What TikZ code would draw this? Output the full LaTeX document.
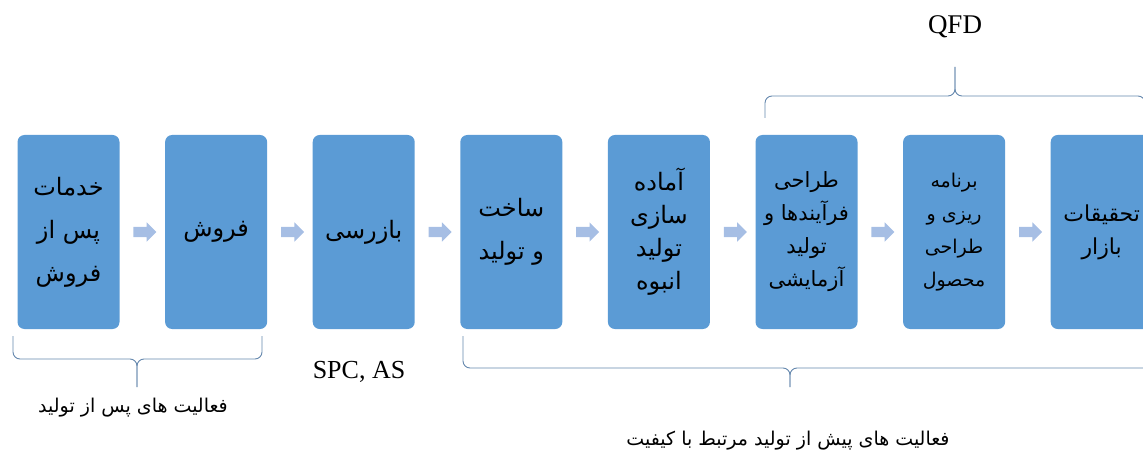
\documentclass[tikz,border=0pt]{standalone}
\usepackage{fontspec}
\setmainfont{Liberation Serif}
\newfontfamily\farsi[Script=Arabic]{DejaVu Sans}
\TeXXeTstate=1
\usetikzlibrary{positioning,shapes.arrows}
\definecolor{stageblue}{HTML}{5B9BD5}
\definecolor{flowblue}{HTML}{A6BEE4}
\definecolor{bracegray}{HTML}{6487AD}
\def\fa#1{{\farsi\beginR #1\endR}}
\def\groupbrace(#1:#2:#3)(#4:#5:#6){%
  \draw[brace] (#1,#4) |- (#2,#5) -- (#2,#6);
  \draw[brace] (#3,#4) |- (#2,#5) -- (#2,#6);}

\begin{document}
\begin{tikzpicture}[x=1pt,y=-1pt,
    stage/.style={rectangle, rounded corners=7, fill=stageblue, minimum width=102,
      minimum height=194, inner sep=0, align=center},
    big/.style={font=\fontsize{24}{43}\selectfont},
    small/.style={font=\fontsize{#1}{33}\selectfont},
    flow/.style={single arrow, fill=flowblue, draw=none, minimum height=23,
      inner xsep=0, inner ysep=5, single arrow head extend=4.5},
    brace/.style={draw=bracegray, line width=0.9, rounded corners=7},
    note/.style={font=\fontsize{19}{22}\selectfont}]
			%%%%% START %%%%%
			\useasboundingbox (0,0) rectangle (1143,454);
			
			\node[stage, big] (service) at (68.5,232) {\fa{خدمات}\\\fa{پس از}\\\fa{فروش}};
			\node[stage, big, right=45.2pt of service] (sales) {\fa{فروش}};
			\node[stage, big, right=45.2pt of sales] (inspect) {\fa{بازرسی}};
			\node[stage, big, right=45.2pt of inspect] (make) {\fa{ساخت}\\\fa{و تولید}};
			\node[stage, small=24, right=45.2pt of make] (mass) {\fa{آماده}\\\fa{سازی}\\\fa{تولید}\\\fa{انبوه}};
			\node[stage, small=21, right=45.2pt of mass] (pilot) {\fa{طراحی}\\\fa{فرآیندها و}\\\fa{تولید}\\\fa{آزمایشی}};
			\node[stage, small=19, right=45.2pt of pilot] (design) {\fa{برنامه}\\\fa{ریزی و}\\\fa{طراحی}\\\fa{محصول}};
			\node[stage, small=22, right=45.2pt of design] (market) {\fa{تحقیقات}\\\fa{بازار}};
			
			\foreach \a/\b in {service/sales, sales/inspect, inspect/make, make/mass,
			  mass/pilot, pilot/design, design/market}
			  \path (\a) -- (\b) node[midway, flow] (to-\b) {};
			
			% brackets over and under the stages
			\groupbrace(13:137:262)(336:359:387)
			\groupbrace(463:790:1160)(336:368:387)
			\groupbrace(765:955:1145)(118:96:67)
			
			\node[font=\fontsize{27}{30}\selectfont] (qfd) at (955,27) {QFD};
			\node[font=\fontsize{26}{30}\selectfont] (spc) at (359,372) {SPC, AS};
			\node[note] (post) at (133,408) {\fa{فعالیت های پس از تولید}};
			\node[note] (pre) at (788,441) {\fa{فعالیت های پیش از تولید مرتبط با کیفیت}};
			
			%%%%% END %%%%%
\end{tikzpicture}
\end{document}
